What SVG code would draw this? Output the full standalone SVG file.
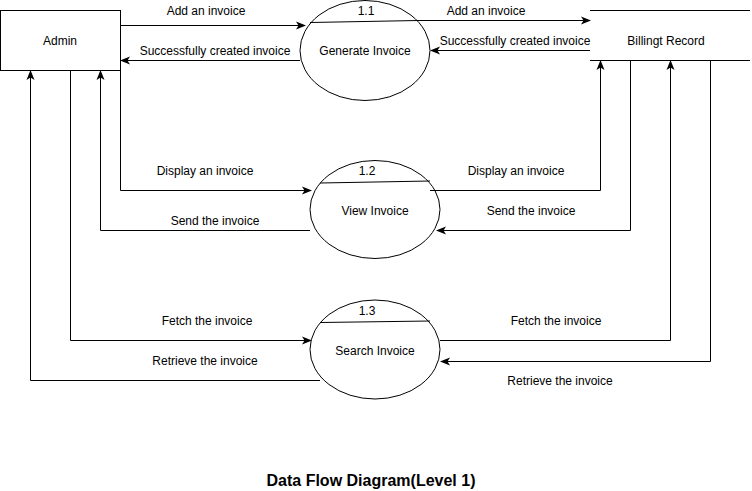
<svg xmlns="http://www.w3.org/2000/svg" width="752" height="491" viewBox="0 0 752 491">
<style>
text{font-family:"Liberation Sans",Arial,Helvetica,sans-serif;font-size:12px;fill:#000;text-anchor:middle}
.s{fill:none;stroke:#000;stroke-width:1}
.f{fill:#fff;stroke:#000;stroke-width:1}
.t{font-size:16px;font-weight:bold}
</style>
<defs>
<marker id="a" viewBox="0 0 10 10" refX="9" refY="5" markerWidth="10" markerHeight="10" markerUnits="userSpaceOnUse" orient="auto">
<path d="M0,1 L10,5 L0,9 L2.5,5 Z" fill="#000"/>
</marker>
</defs>
<rect width="752" height="491" fill="#fff"/>
<g id="admin"><rect class="f" x="0.5" y="10.5" width="120" height="60"/><text x="60" y="45">Admin</text></g>
<g id="billing"><path class="s" d="M590,10.5 H750 M590,60.5 H750"/><text x="666" y="45">Billingt Record</text></g>
<g id="p11"><ellipse class="f" cx="365" cy="50.5" rx="65" ry="50"/><path class="s" d="M310,22.5 L418,20.5"/><text x="366" y="15">1.1</text><text x="365" y="55">Generate Invoice</text></g>
<g id="p12"><ellipse class="f" cx="375" cy="209.5" rx="65" ry="49"/><path class="s" d="M320,183 L430,181"/><text x="367" y="175">1.2</text><text x="375" y="215">View Invoice</text></g>
<g id="p13"><ellipse class="f" cx="375" cy="349.5" rx="65" ry="49.5"/><path class="s" d="M320,322.5 L430,321"/><text x="367" y="315">1.3</text><text x="375" y="355">Search Invoice</text></g>
<g id="connectors">
<path class="s" d="M120,25.5 H305" marker-end="url(#a)"/>
<path class="s" d="M300,60.5 H121" marker-end="url(#a)"/>
<path class="s" d="M418,20.5 H590" marker-end="url(#a)"/>
<path class="s" d="M590,50.5 H431" marker-end="url(#a)"/>
<path class="s" d="M120.5,70 V190.5 H311" marker-end="url(#a)"/>
<path class="s" d="M310,230.5 H100.5 V71" marker-end="url(#a)"/>
<path class="s" d="M70.5,70 V340.5 H311" marker-end="url(#a)"/>
<path class="s" d="M320,380.5 H30.5 V71" marker-end="url(#a)"/>
<path class="s" d="M430,190.5 H600.5 V61" marker-end="url(#a)"/>
<path class="s" d="M630.5,60 V230.5 H437" marker-end="url(#a)"/>
<path class="s" d="M440,340.5 H670.5 V61" marker-end="url(#a)"/>
<path class="s" d="M710.5,60 V361.5 H441" marker-end="url(#a)"/>
</g>
<g id="labels">
<text x="206" y="15">Add an invoice</text>
<text x="215" y="55">Successfully created invoice</text>
<text x="486" y="15">Add an invoice</text>
<text x="515" y="45">Successfully created invoice</text>
<text x="205" y="175">Display an invoice</text>
<text x="215" y="225">Send the invoice</text>
<text x="207" y="325">Fetch the invoice</text>
<text x="205" y="365">Retrieve the invoice</text>
<text x="516" y="175">Display an invoice</text>
<text x="531" y="215">Send the invoice</text>
<text x="556" y="325">Fetch the invoice</text>
<text x="560" y="385">Retrieve the invoice</text>
</g>
<text class="t" x="371" y="486">Data Flow Diagram(Level 1)</text>
</svg>
